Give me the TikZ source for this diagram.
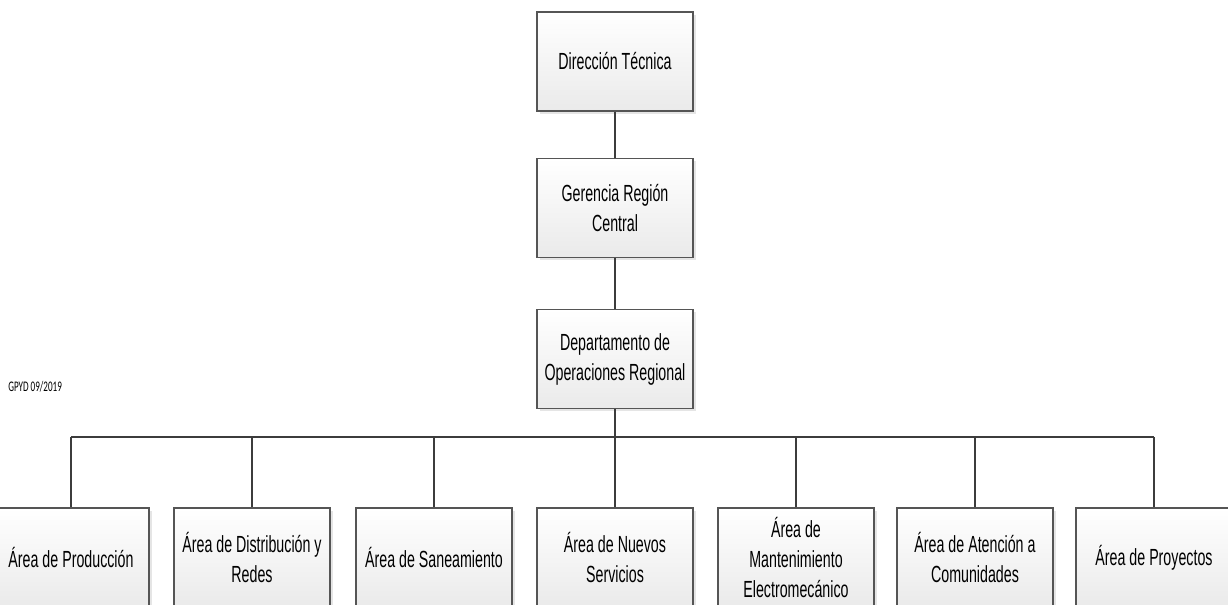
\documentclass[tikz,border=0pt]{standalone}
\usepackage{fontspec}
\setmainfont[FakeStretch=0.61]{Liberation Sans}
\newfontfamily\notefont[FakeStretch=0.62]{Carlito}
\usetikzlibrary{shadows}

\definecolor{boxline}{RGB}{85,85,85}
\definecolor{linkline}{RGB}{60,60,60}
\definecolor{boxbottom}{RGB}{234,234,234}

\tikzset{
  orgbox/.style={draw=boxline, line width=0.9pt, top color=white, bottom color=boxbottom,
    minimum width=117pt, minimum height=74.25pt, inner sep=1pt, align=center,
    font=\fontsize{17.5}{22.5}\selectfont,
    drop shadow={shadow xshift=2pt, shadow yshift=-2pt, fill=black!20, opacity=0.5}},
  orglink/.style={draw=linkline, line width=1.1pt},
  buslink/.style={draw=linkline, line width=1.5pt}
}

\begin{document}
\begin{tikzpicture}[x=0.75pt,y=0.75pt,yscale=-1,xscale=1]
\path[use as bounding box, clip] (0,0) rectangle (1228,604);

% Top boxes
\node [orgbox] (dirtec) at (615,61.5) {Dirección Técnica};
\node [orgbox] (gerreg) at (615,208) {Gerencia Región\\Central};
\node [orgbox] (depop) at (615,359) {Departamento de\\Operaciones Regional};

% Note
\node [anchor=west, inner sep=0pt, font=\notefont\fontsize{11}{13}\selectfont] (nota) at (8,387) {GPYD 09/2019};

% Area boxes
\node [orgbox] (areaprod) at (71,557.5) {Área de Producción};
\node [orgbox] (areadist) at (252,557.5) {Área de Distribución y\\Redes};
\node [orgbox] (areasan) at (434,557.5) {Área de Saneamiento};
\node [orgbox] (areanue) at (615,557.5) {Área de Nuevos\\Servicios};
\node [orgbox] (areamant) at (796,557.5) {Área de\\Mantenimiento\\Electromecánico};
\node [orgbox] (areaaten) at (975,557.5) {Área de Atención a\\Comunidades};
\node [orgbox] (areaproy) at (1154,557.5) {Área de Proyectos};

% Links
\draw [orglink] (dirtec.south) -- (gerreg.north);
\draw [orglink] (gerreg.south) -- (depop.north);
\coordinate (bus) at (615,437);
\draw [buslink] (areaprod.north |- bus) -- (areaproy.north |- bus);
\draw [orglink] (depop.south) -- (areanue.north);
\foreach \a in {areaprod,areadist,areasan,areamant,areaaten,areaproy}
  \draw [orglink] (\a.north |- bus) -- (\a.north);

\end{tikzpicture}
\end{document}
